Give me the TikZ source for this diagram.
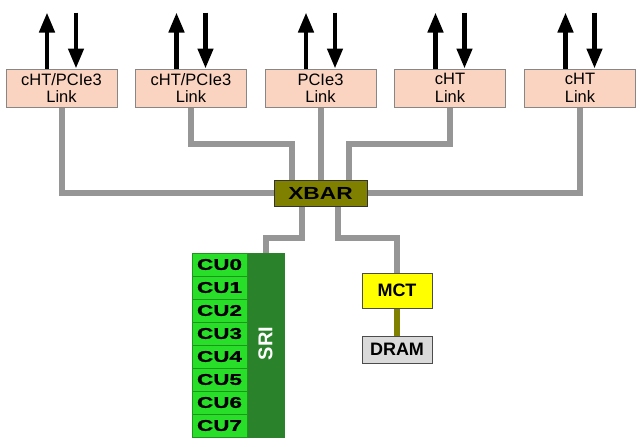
\documentclass[tikz,border=0pt]{standalone}
\usepackage{fontspec}
\setmainfont{Liberation Sans}
\newfontfamily\widefont{Liberation Sans}[FakeStretch=1.3]
\newfontfamily\cufont{Liberation Sans}[FakeStretch=1.45,FakeBold=1.2]
\usetikzlibrary{arrows.meta, positioning}
\definecolor{linkfill}{RGB}{250,212,192}
\definecolor{linkedge}{RGB}{135,135,135}
\definecolor{busgray}{RGB}{150,150,150}
\definecolor{xbarfill}{RGB}{128,128,0}
\definecolor{cugreen}{RGB}{40,222,40}
\definecolor{cuedge}{RGB}{30,150,30}
\definecolor{srigreen}{RGB}{42,130,42}
\definecolor{mctfill}{RGB}{255,255,0}
\definecolor{dramfill}{RGB}{218,218,218}
\tikzset{
    linknode/.style={draw=linkedge, fill=linkfill, line width=1pt, minimum width=111pt, minimum height=38pt, inner sep=0pt, align=center, font=\fontsize{16.5}{17.5}\selectfont},
    bigarrow/.style={line width=4.5pt, -{Triangle[width=15pt,length=20pt]}},
    bus/.style={draw=busgray, line width=6pt},
    xbarnode/.style={draw=black!80, fill=xbarfill, line width=1pt, minimum width=93pt, minimum height=26pt, inner sep=0pt, font=\widefont\bfseries\fontsize{17.5}{17.5}\selectfont},
    cunode/.style={draw=cuedge, fill=cugreen, line width=0.8pt, minimum width=55pt, minimum height=23pt, inner sep=0pt, font=\cufont\bfseries\fontsize{15.5}{15.5}\selectfont},
    srinode/.style={draw=srigreen, fill=srigreen, minimum width=37pt, minimum height=184pt, inner sep=0pt},
    memnode/.style={draw=black!70, line width=1pt, minimum width=70pt, inner sep=0pt, font=\bfseries\fontsize{18}{18}\selectfont}
}
% one link box with its outgoing and incoming arrows
\def\linkbox#1#2#3{
    \node[linknode] (#1) at (#2,88) {#3};
    \draw[bigarrow] ([xshift=-14.5pt]#1.north) -- ++(0,-56); % out
    \draw[bigarrow] ([xshift=14.5pt,yshift=56pt]#1.north) -- ([xshift=14.5pt]#1.north); % in
}

\begin{document}
\begin{tikzpicture}[x=1pt, y=-1pt]
    \useasboundingbox (0,0) rectangle (640,447);

    % Links
    \linkbox{lnkA}{61.5}{cHT/PCIe3\\Link}
    \linkbox{lnkB}{191}{cHT/PCIe3\\Link}
    \linkbox{lnkC}{320.5}{PCIe3\\Link}
    \linkbox{lnkD}{450}{cHT\\Link}
    \linkbox{lnkE}{580}{cHT\\Link}

    % Crossbar
    \node[xbarnode] (xbar) at (320.5,193) {XBAR};

    % Links to crossbar
    \draw[bus] (lnkA.south) |- (xbar.west);
    \draw[bus] (lnkB.south) -- ++(0,36) -| ([xshift=-28.5pt]xbar.north);
    \draw[bus] (lnkC.south) -- (xbar.north);
    \draw[bus] (lnkD.south) -- ++(0,36) -| ([xshift=28.5pt]xbar.north);
    \draw[bus] (lnkE.south) |- (xbar.east);

    % Cores and SRI
    \node[srinode] (sri) at (265.5,345) {};
    \node[rotate=90, text=white, font=\bfseries\fontsize{20}{20}\selectfont] (srilabel) at (265.5,343.5) {SRI};
    \foreach \i in {0,...,7}
        \node[cunode] (cu\i) at (219.5,264.5+23*\i) {CU\i};

    % Memory controller and DRAM
    \node[memnode, fill=mctfill, minimum height=35pt] (mct) at (397,290.5) {MCT};
    \node[memnode, fill=dramfill, minimum height=27pt] (dram) at (397,349.5) {DRAM};
    \draw[draw=xbarfill, line width=6pt] (mct) -- (dram);

    % Crossbar to SRI and MCT
    \draw[bus] ([xshift=-18.5pt]xbar.south) -- ++(0,31) -| (sri.north);
    \draw[bus] ([xshift=17.5pt]xbar.south) -- ++(0,31) -| (mct.north);
\end{tikzpicture}
\end{document}
